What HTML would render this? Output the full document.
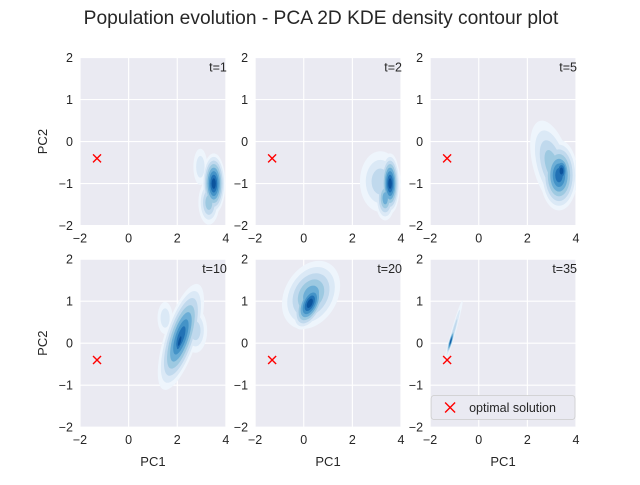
<!DOCTYPE html>
<html><head><meta charset="utf-8"><style>
body{margin:0;background:#fff;font-family:"Liberation Sans",Arial,sans-serif}
svg text{font-family:"Liberation Sans",Arial,sans-serif;fill:#262626}
</style></head><body>
<svg id="fig" width="640" height="480" xmlns="http://www.w3.org/2000/svg">
<text x="321" y="24" text-anchor="middle" font-size="19.2">Population evolution - PCA 2D KDE density contour plot</text>
</svg>
<script>
// Data
const panelLabels = ["t=1","t=2","t=5","t=10","t=20","t=35"];
const xTicks = [-2,0,2,4];
const yTicks = [-2,-1,0,1,2];
const optimal = [-1.3,-0.4];
// blobs per panel: [cx, cy, sx, sy, angleDeg, levels]
const blobsT1 = [[2.95,-0.6,0.12,0.18,0,2],[3.3,-1.45,0.18,0.22,0,4],[3.5,-1.0,0.2,0.3,0,8]];
const blobsT2 = [[3.15,-0.95,0.35,0.3,0,3],[3.35,-1.35,0.17,0.22,0,5],[3.55,-1.0,0.17,0.3,0,8]];
const blobsT5 = [[3.0,-0.55,0.32,0.45,-15,4],[3.3,-0.8,0.32,0.35,0,7],[3.4,-0.7,0.18,0.2,0,8]];
const blobsT10 = [[1.5,0.6,0.13,0.16,0,2],[2.75,0.3,0.2,0.22,0,3],[2.15,0.15,0.28,0.55,18,7],[2.1,0.05,0.12,0.28,15,8]];
const blobsT20 = [[0.3,1.15,0.45,0.36,30,5],[0.25,0.95,0.24,0.28,25,8]];
const blobsT35 = [[-1.05,0.25,0.04,0.33,16,3],[-1.15,0.05,0.035,0.14,16,8]];
const panelBlobs = [blobsT1,blobsT2,blobsT5,blobsT10,blobsT20,blobsT35];

const blues = ["#eef5fc","#dbe9f6","#c0d9ed","#9dc9e1","#6caed6","#4493c7","#2272b5","#0b549d","#083b7c"];
const NS="http://www.w3.org/2000/svg";
const svg=document.getElementById('fig');
const colX=[80,255.1,430.1], rowY=[57.6,259.2], W=145.9, H=168;
function mk(tag,attrs,parent){const e=document.createElementNS(NS,tag);for(const k in attrs)e.setAttribute(k,attrs[k]);(parent||svg).appendChild(e);return e;}

panelLabels.forEach((lab,i)=>{
  const x0=colX[i%3], y0=rowY[Math.floor(i/3)];
  const sx=v=>x0+(v+2)/6*W, sy=v=>y0+(2-v)/4*H;
  const g=mk('g',{});
  
  
  const clipId='c'+i;
  const cp=mk('clipPath',{id:clipId},g);mk('rect',{x:x0,y:y0,width:W,height:H},cp);
  const bg=mk('rect',{x:x0,y:y0,width:W,height:H,fill:'#EAEAF2'},g);
  
  
  xTicks.forEach(t=>{
    mk('line',{x1:sx(t),x2:sx(t),y1:y0,y2:y0+H,stroke:'#fff','stroke-width':1.1},g);
    const tx=mk('text',{x:sx(t),y:y0+H+17,'text-anchor':'middle','font-size':12.5},g);
    tx.textContent=(t<0?'\u2212':'')+Math.abs(t);
    
    
  });
  yTicks.forEach(t=>{
    mk('line',{x1:x0,x2:x0+W,y1:sy(t),y2:sy(t),stroke:'#fff','stroke-width':1.1},g);
    const ty=mk('text',{x:x0-7,y:sy(t)+4.5,'text-anchor':'end','font-size':12.5},g);
    ty.textContent=(t<0?'\u2212':'')+Math.abs(t);
    
    
  });
  const dg=mk('g',{'clip-path':'url(#'+clipId+')'},g);
  
  
  const blobs=panelBlobs[i];
  for(let k=0;k<9;k++){
    blobs.forEach(b=>{
      const [cx,cy,bx,by,ang,lv]=b;
      if(k>=lv) return;
      const f=2.4*(1-k/(lv+0.5));
      const rx=bx*f*W/6, ry=by*f*H/4;
      const e=mk('ellipse',{cx:sx(cx),cy:sy(cy),rx:rx,ry:ry,fill:blues[k],transform:`rotate(${ang} ${sx(cx)} ${sy(cy)})`},dg);
      
      
    });
  }
  const ox=sx(optimal[0]), oy=sy(optimal[1]);
  const m=mk('path',{d:`M${ox-4} ${oy-4}L${ox+4} ${oy+4}M${ox-4} ${oy+4}L${ox+4} ${oy-4}`,stroke:'#ff0000','stroke-width':1.4},g);
  
  
  const lt=mk('text',{x:x0+W+1,y:y0+14,'text-anchor':'end','font-size':12.5},g);
  lt.textContent=lab;
  
  
  if(i>=3){
    const xl=mk('text',{x:x0+W/2,y:466,'text-anchor':'middle','font-size':13},g);
    xl.textContent='PC1';
    
    
  }
  if(i%3===0){
    const yl=mk('text',{x:0,y:0,'text-anchor':'middle','font-size':13,transform:`translate(47 ${y0+H/2}) rotate(-90)`},g);
    yl.textContent='PC2';
    
    
  }
  if(i===5){
    const lg=mk('g',{},g);
    
    
    mk('rect',{x:x0+1,y:395.5,width:W-2,height:24,rx:3,fill:'#EAEAF2',stroke:'#cccccc','stroke-width':0.8},lg);
    const lx=x0+20, ly=407.5;
    mk('path',{d:`M${lx-5} ${ly-5}L${lx+5} ${ly+5}M${lx-5} ${ly+5}L${lx+5} ${ly-5}`,stroke:'#ff0000','stroke-width':1.4},lg);
    const t=mk('text',{x:x0+39,y:412,'font-size':12.5},lg);
    t.textContent='optimal solution';
  }
});
</script>
</body></html>
